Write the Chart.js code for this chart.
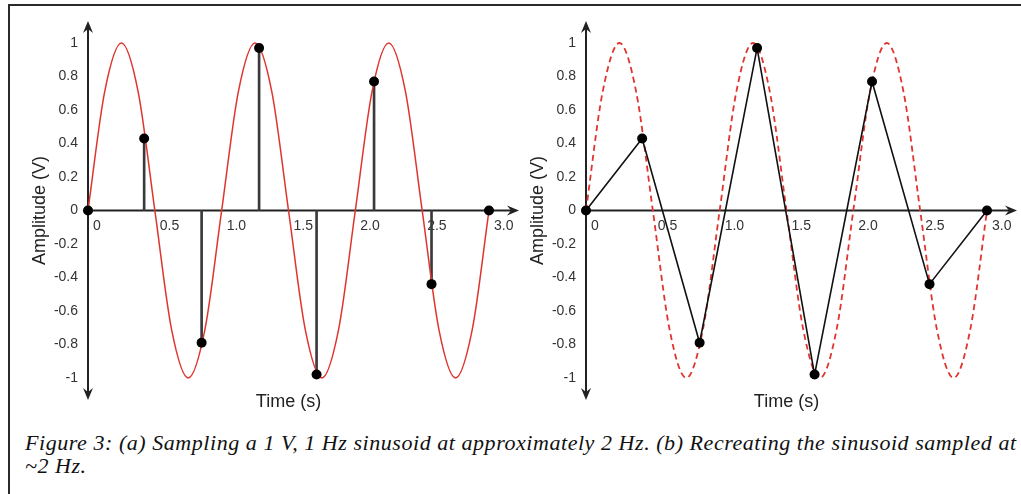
<!DOCTYPE html>
<html>
<head>
<meta charset="utf-8">
<script src="https://cdn.jsdelivr.net/npm/chart.js@4.4.1/dist/chart.umd.min.js"></script>
<style>
  html, body { margin: 0; padding: 0; background: #fff; overflow: hidden; }
  body { width: 1021px; height: 494px; position: relative; }
  #frame { position: absolute; left: 8px; top: 4px; width: 1100px; height: 600px;
           border-top: 2px solid #2a2a2a; border-left: 2px solid #2a2a2a; }
  .panel { position: absolute; top: 0; height: 413px; }
  #left { left: 0; width: 530px; }
  #right { left: 500px; width: 521px; }
  #caption { position: absolute; left: 25px; top: 431px; width: 1300px; white-space: nowrap;
             font: italic 22px "Liberation Serif", "Times New Roman", serif; line-height: 23px;
             letter-spacing: 0.55px; color: #111; }
</style>
</head>
<body>
<div id="frame"></div>
<div class="panel" id="left"><canvas id="chartA"></canvas></div>
<div class="panel" id="right"><canvas id="chartB"></canvas></div>
<div id="caption">Figure 3: (a) Sampling a 1 V, 1 Hz sinusoid at approximately 2 Hz. (b) Recreating the sinusoid sampled at<br>~2 Hz.</div>
<script>
// samples taken from the 1 Hz sine
const sampleTimes = [0, 0.42, 0.85, 1.28, 1.71, 2.14, 2.57, 3.0];
const sampleValues = [0, 0.43, -0.79, 0.97, -0.98, 0.77, -0.44, 0];

// the 1 V, 1 Hz sinusoid, read every 1/8 s
const sineTimes = [0, 0.125, 0.25, 0.375, 0.5, 0.625, 0.75, 0.875,
                   1, 1.125, 1.25, 1.375, 1.5, 1.625, 1.75, 1.875,
                   2, 2.125, 2.25, 2.375, 2.5, 2.625, 2.75, 2.875, 3];
const sineValues = [0, 0.71, 1, 0.71, 0, -0.71, -1, -0.71,
                    0, 0.71, 1, 0.71, 0, -0.71, -1, -0.71,
                    0, 0.71, 1, 0.71, 0, -0.71, -1, -0.71, 0];

const xTicks = [0, 0.5, 1, 1.5, 2, 2.5, 3];
const xTickLabels = ['0', '0.5', '1.0', '1.5', '2.0', '2.5', '3.0'];
const yTicks = [1, 0.8, 0.6, 0.4, 0.2, 0, -0.2, -0.4, -0.6, -0.8, -1];
const yTickLabels = ['1', '0.8', '0.6', '0.4', '0.2', '0', '-0.2', '-0.4', '-0.6', '-0.8', '-1'];
const xTitle = 'Time (s)';
const yTitle = 'Amplitude (V)';

const red = '#e0352f';
const ink = '#222';

Chart.defaults.font.family = '"Liberation Sans", Arial, sans-serif';

function pts(xs, ys) {
    return xs.map((x, i) => ({x: x, y: ys[i]}));
}

function arrowHead(ctx, px, py, dx, dy) {
    let len = 12, half = 5, notch = 8;
    let bx = px - dx * len, by = py - dy * len;
    ctx.beginPath();
    ctx.moveTo(px, py);
    ctx.lineTo(bx - dy * half, by + dx * half);
    ctx.lineTo(px - dx * notch, py - dy * notch);
    ctx.lineTo(bx + dy * half, by - dx * half);
    ctx.closePath();
    ctx.fill();
}

// axes crossing at zero, with arrow heads running past the plot area
const arrowAxes = {
    id: 'arrowAxes',
    beforeDatasetsDraw(chart, args, opts) {
        let ctx = chart.ctx, a = chart.chartArea;
        let x0 = chart.scales.x.getPixelForValue(0);
        let y0 = chart.scales.y.getPixelForValue(0);
        let top = a.top - opts.overY, bottom = a.bottom + opts.overY, right = a.right + opts.overX;
        ctx.save();
        ctx.strokeStyle = opts.color;
        ctx.fillStyle = opts.color;
        ctx.lineWidth = opts.width;
        ctx.beginPath();
        ctx.moveTo(x0, top + 6);
        ctx.lineTo(x0, bottom - 6);
        ctx.moveTo(x0, y0);
        ctx.lineTo(right - 6, y0);
        ctx.stroke();
        arrowHead(ctx, x0, top, 0, -1);
        arrowHead(ctx, x0, bottom, 0, 1);
        arrowHead(ctx, right, y0, 1, 0);
        ctx.restore();
    }
};

function makeScales() {
    return {
        x: {
            type: 'linear', min: 0, max: 3, position: {y: 0}, offset: false,
            grid: {display: false, drawTicks: false}, border: {display: false},
            afterBuildTicks: s => { s.ticks = xTicks.map(v => ({value: v})); },
            afterFit: s => { s.paddingLeft = 0; s.paddingRight = 0; },
            ticks: {
                align: 'start', labelOffset: 5, padding: 7, autoSkip: false, maxRotation: 0,
                color: '#333', font: {size: 14},
                callback: (v, i) => xTickLabels[i]
            }
        },
        x2: {
            type: 'linear', min: 0, max: 3, position: 'bottom',
            grid: {display: false, drawTicks: false}, border: {display: false},
            ticks: {display: false},
            title: {display: true, text: xTitle, color: ink, font: {size: 18}, padding: {top: 13.5, bottom: 0}}
        },
        y: {
            type: 'linear', min: -1, max: 1, position: 'left',
            grid: {display: false, drawTicks: false}, border: {display: false},
            afterBuildTicks: s => { s.ticks = yTicks.map(v => ({value: v})); },
            afterFit: s => { s.width = 79; },
            ticks: {
                padding: 10, autoSkip: false, color: '#333', font: {size: 14},
                callback: (v, i) => yTickLabels[i]
            },
            title: {display: true, text: yTitle, color: ink, font: {size: 18}, padding: {top: 20, bottom: 0}}
        }
    };
}

function makeOptions(padLeft, padRight) {
    return {
        responsive: true,
        maintainAspectRatio: false,
        animation: false,
        events: [],
        layout: {padding: {left: padLeft, right: padRight, top: 43, bottom: 0}},
        plugins: {
            legend: {display: false},
            tooltip: {enabled: false},
            arrowAxes: {color: ink, width: 2, overX: 30, overY: 22}
        },
        scales: makeScales()
    };
}

// (a) sine with sample stems
new Chart(document.getElementById('chartA'), {
    type: 'line',
    data: {
        datasets: [
            {
                data: pts(sampleTimes, sampleValues), showLine: false, order: 0, clip: false,
                pointRadius: 5, pointBackgroundColor: '#000', pointBorderWidth: 0
            },
            {
                data: pts(sineTimes, sineValues), order: 1, clip: false,
                borderColor: red, borderWidth: 1.5, pointRadius: 0, cubicInterpolationMode: 'monotone'
            },
            {
                type: 'bar', data: pts(sampleTimes, sampleValues), order: 2,
                backgroundColor: '#3a3a3a', barThickness: 2
            }
        ]
    },
    options: makeOptions(9, 41),
    plugins: [arrowAxes]
});

// (b) straight-line reconstruction over the dashed sine
new Chart(document.getElementById('chartB'), {
    type: 'line',
    data: {
        datasets: [
            {
                data: pts(sampleTimes, sampleValues), order: 0, clip: false,
                borderColor: '#111', borderWidth: 1.6, tension: 0,
                pointRadius: 5, pointBackgroundColor: '#000', pointBorderWidth: 0
            },
            {
                data: pts(sineTimes, sineValues), order: 1, clip: false,
                borderColor: red, borderWidth: 1.8, borderDash: [6, 4], pointRadius: 0,
                cubicInterpolationMode: 'monotone'
            }
        ]
    },
    options: makeOptions(7, 34),
    plugins: [arrowAxes]
});
</script>
</body>
</html>
